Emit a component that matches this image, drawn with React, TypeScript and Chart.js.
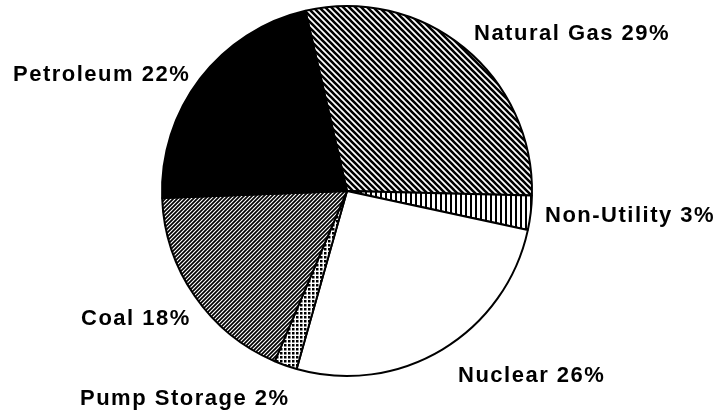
import React, { useEffect, useRef } from "react";
import { Chart, registerables } from "chart.js";

Chart.register(...registerables);

const categories = ["Natural Gas", "Non-Utility", "Nuclear", "Pump Storage", "Coal", "Petroleum"];
const shares = [29, 3, 26, 2, 18, 22];

// label placement relative to pie centre (style only)
const labelOffsets = [
  [127, -151],
  [198, 31],
  [111, 191],
  [-267, 214],
  [-266, 134],
  [-334, -110],
];

function makePattern(kind: string): CanvasPattern | string {
  const c = document.createElement("canvas");
  const ctx = c.getContext("2d")!;
  if (kind === "white") return "#ffffff";
  if (kind === "black") return "#000000";
  if (kind === "back") {
    const s = 6;
    c.width = s; c.height = s;
    ctx.fillStyle = "#fff"; ctx.fillRect(0, 0, s, s);
    ctx.strokeStyle = "#000"; ctx.lineWidth = 2.6;
    ctx.beginPath();
    ctx.moveTo(-s, -s); ctx.lineTo(2 * s, 2 * s);
    ctx.moveTo(-s, 0); ctx.lineTo(s, 2 * s);
    ctx.moveTo(0, -s); ctx.lineTo(2 * s, s);
    ctx.stroke();
  } else if (kind === "fwd") {
    const s = 4;
    c.width = s; c.height = s;
    ctx.fillStyle = "#fff"; ctx.fillRect(0, 0, s, s);
    ctx.strokeStyle = "#000"; ctx.lineWidth = 1.7;
    ctx.beginPath();
    ctx.moveTo(-s, 2 * s); ctx.lineTo(2 * s, -s);
    ctx.moveTo(-s, s); ctx.lineTo(s, -s);
    ctx.moveTo(0, 2 * s); ctx.lineTo(2 * s, 0);
    ctx.stroke();
  } else if (kind === "vert") {
    c.width = 5; c.height = 4;
    ctx.fillStyle = "#fff"; ctx.fillRect(0, 0, 5, 4);
    ctx.fillStyle = "#000"; ctx.fillRect(0, 0, 2, 4);
  } else if (kind === "dots") {
    c.width = 4; c.height = 4;
    ctx.fillStyle = "#fff"; ctx.fillRect(0, 0, 4, 4);
    ctx.fillStyle = "#000"; ctx.fillRect(0, 0, 2.5, 2.5);
  }
  return ctx.createPattern(c, "repeat")!;
}

const fillKinds = ["back", "vert", "white", "dots", "fwd", "black"];

const labelPlugin = {
  id: "sliceLabels",
  afterDraw(chart: any) {
    const arc = chart.getDatasetMeta(0).data[0];
    if (!arc) return;
    const ctx = chart.ctx;
    ctx.save();
    ctx.fillStyle = "#000";
    ctx.font = "bold 22px 'Liberation Sans', Arial, sans-serif";
    (ctx as any).letterSpacing = "1.5px";
    ctx.textAlign = "left";
    ctx.textBaseline = "alphabetic";
    categories.forEach((c, i) => {
      const [dx, dy] = labelOffsets[i];
      ctx.fillText(`${c} ${shares[i]}%`, arc.x + dx, arc.y + dy);
    });
    ctx.restore();
  },
};

export default function App() {
  const ref = useRef<HTMLCanvasElement>(null);
  useEffect(() => {
    if (!ref.current) return;
    const chart = new Chart(ref.current, {
      type: "pie",
      data: {
        labels: categories,
        datasets: [
          {
            data: shares,
            backgroundColor: fillKinds.map(makePattern) as any,
            borderColor: "#000",
            borderWidth: 2,
          },
        ],
      },
      options: {
        animation: false,
        responsive: true,
        maintainAspectRatio: false,
        rotation: -13,
        layout: { padding: { left: 161, right: 195, top: 4, bottom: 34 } },
        plugins: { legend: { display: false }, tooltip: { enabled: false } },
        events: [],
      },
      plugins: [labelPlugin],
    });
    return () => chart.destroy();
  }, []);
  return (
    <div style={{ position: "absolute", left: 0, top: 0, width: 728, height: 412, background: "#fff" }}>
      <canvas ref={ref} />
    </div>
  );
}
